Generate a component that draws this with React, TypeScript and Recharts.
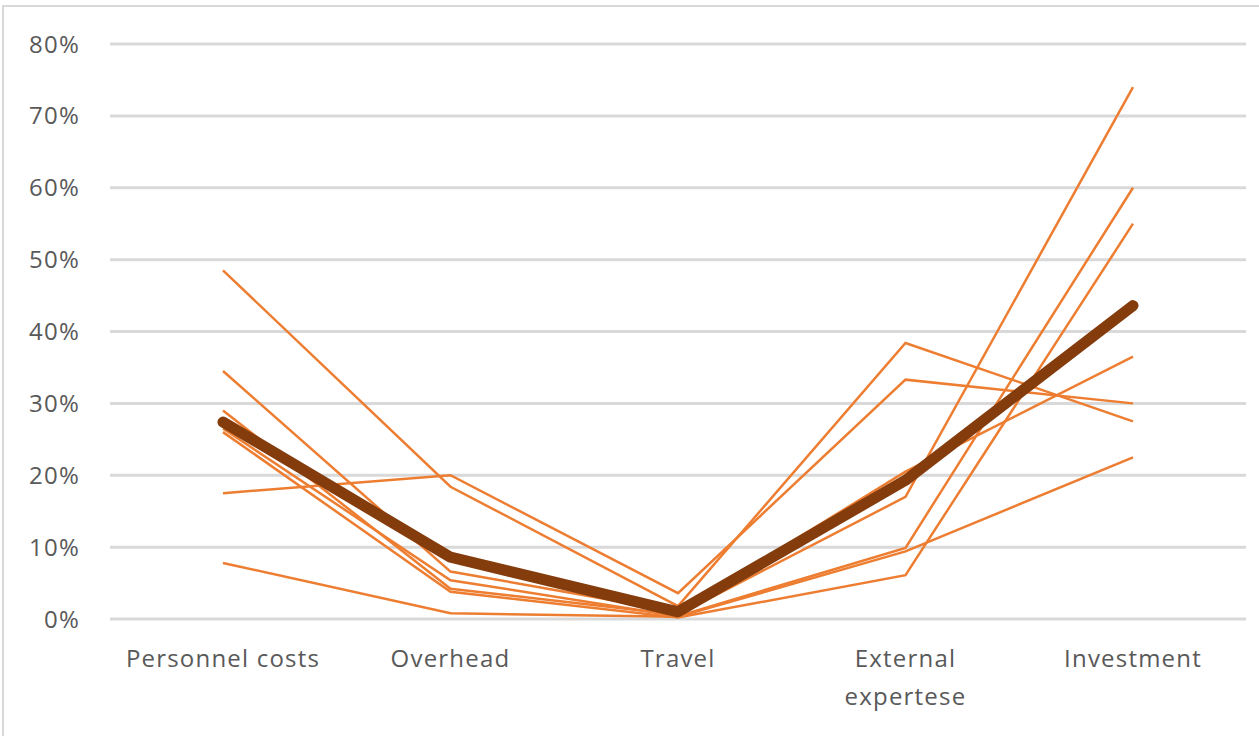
import React from 'react';
import { LineChart, Line, XAxis, YAxis, CartesianGrid } from 'recharts';

// ─── Data ─────────────────────────────────────────────────────────────────────

const categories = ['Personnel costs', 'Overhead', 'Travel', 'External expertese', 'Investment'];

// individual projects (share of budget, %)
const projectA = [48.5, 18.4, 1.8, 38.4, 27.5];
const projectB = [17.5, 20.0, 3.6, 33.3, 30.0];
const projectC = [7.8, 0.8, 0.3, 9.4, 22.5];
const projectD = [34.5, 6.6, 1.0, 20.5, 36.5];
const projectE = [29.0, 4.2, 0.6, 17.0, 74.0];
const projectF = [26.5, 5.4, 0.4, 9.9, 60.0];
const projectG = [26.0, 3.8, 0.2, 6.1, 55.0];

// average line as drawn
const average = [27.4, 8.6, 1.0, 19.3, 43.6];

const yTicks = [0, 10, 20, 30, 40, 50, 60, 70, 80];

const projects = [projectA, projectB, projectC, projectD, projectE, projectF, projectG];

const rows = categories.map((name, i) => {
  const row: Record<string, string | number> = { name, avg: average[i] };
  projects.forEach((p, k) => {
    row[`p${k}`] = p[i];
  });
  return row;
});

// ─── Styles ───────────────────────────────────────────────────────────────────

const FONT = '"Open Sans", "Noto Sans", sans-serif';
const TEXT = '#595959';
const THIN = '#ED7D31';
const THICK = '#843C0C';

function CategoryTick(props: any): React.ReactElement {
  const { x, y, payload } = props;
  const label: string = payload.value;
  const lines = label.length > 16 ? label.split(' ') : [label];
  return (
    <text x={x} y={y} textAnchor="middle" fill={TEXT} fontSize={24} letterSpacing={1.2} fontFamily={FONT}>
      {lines.map((l, i) => (
        <tspan key={i} x={x} dy={i === 0 ? '0.71em' : 38}>
          {l}
        </tspan>
      ))}
    </text>
  );
}

// ─── Component ────────────────────────────────────────────────────────────────

export default function App(): React.ReactElement {
  return (
    <div style={{ position: 'fixed', left: 0, top: 0, width: 1259, height: 736, background: '#fff' }}>
      <div
        style={{
          position: 'absolute',
          left: 2,
          top: 5,
          width: 1300,
          height: 800,
          borderTop: '2px solid #D9D9D9',
          borderLeft: '2px solid #D9D9D9',
        }}
      />
      <div style={{ position: 'absolute', left: 0, top: 0 }}>
        <LineChart width={1259} height={736} data={rows} margin={{ top: 44, right: 13, bottom: 87, left: 10 }}>
          <CartesianGrid vertical={false} stroke="#D9D9D9" strokeWidth={3} />
          <XAxis
            dataKey="name"
            height={30}
            axisLine={false}
            tickLine={false}
            tickSize={0}
            tickMargin={31}
            padding={{ left: 113, right: 113 }}
            interval={0}
            tick={<CategoryTick />}
          />
          <YAxis
            width={100}
            domain={[0, 80]}
            ticks={yTicks}
            axisLine={false}
            tickLine={false}
            tickSize={0}
            tickMargin={30}
            tickFormatter={(v: number) => `${v}%`}
            tick={{ fill: TEXT, fontSize: 24, letterSpacing: 1.2, fontFamily: FONT }}
          />
          {projects.map((_, k) => (
            <Line
              key={k}
              dataKey={`p${k}`}
              stroke={THIN}
              strokeWidth={2.5}
              dot={false}
              isAnimationActive={false}
            />
          ))}
          <Line
            dataKey="avg"
            stroke={THICK}
            strokeWidth={11}
            strokeLinecap="round"
            strokeLinejoin="round"
            dot={false}
            isAnimationActive={false}
          />
        </LineChart>
      </div>
    </div>
  );
}
